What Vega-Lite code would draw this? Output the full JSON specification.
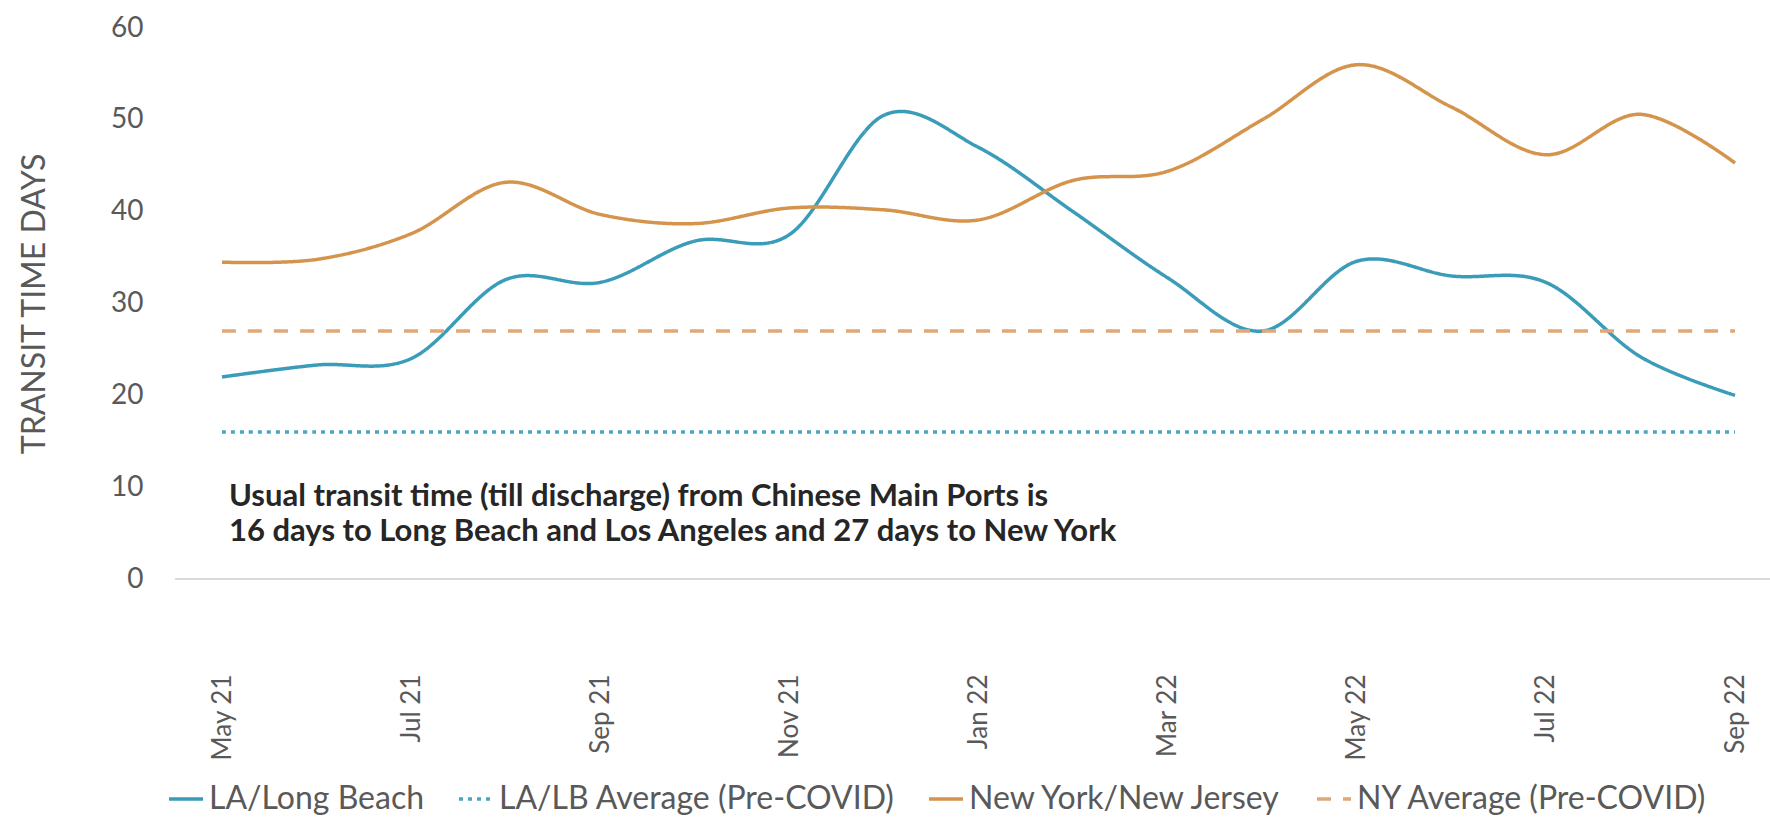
{
  "$schema": "https://vega.github.io/schema/vega-lite/v6.json",
  "width": 1595,
  "height": 551,
  "autosize": {"type": "none"},
  "padding": {"left": 175, "top": 28, "right": 0, "bottom": 244},
  "background": "white",
  "config": {"font": "Lato, sans-serif", "view": {"stroke": null}},
  "datasets": {
    "series": [
      {"month": "May 21", "series": "LA/Long Beach", "days": 22},
      {"month": "Jun 21", "series": "LA/Long Beach", "days": 23.3},
      {"month": "Jul 21", "series": "LA/Long Beach", "days": 24},
      {"month": "Aug 21", "series": "LA/Long Beach", "days": 32.6},
      {"month": "Sep 21", "series": "LA/Long Beach", "days": 32.3},
      {"month": "Oct 21", "series": "LA/Long Beach", "days": 36.8},
      {"month": "Nov 21", "series": "LA/Long Beach", "days": 37.5},
      {"month": "Dec 21", "series": "LA/Long Beach", "days": 50.5},
      {"month": "Jan 22", "series": "LA/Long Beach", "days": 47},
      {"month": "Feb 22", "series": "LA/Long Beach", "days": 40},
      {"month": "Mar 22", "series": "LA/Long Beach", "days": 32.8},
      {"month": "Apr 22", "series": "LA/Long Beach", "days": 27},
      {"month": "May 22", "series": "LA/Long Beach", "days": 34.6},
      {"month": "Jun 22", "series": "LA/Long Beach", "days": 33},
      {"month": "Jul 22", "series": "LA/Long Beach", "days": 32.3},
      {"month": "Aug 22", "series": "LA/Long Beach", "days": 24.2},
      {"month": "Sep 22", "series": "LA/Long Beach", "days": 20},
      {"month": "May 21", "series": "LA/LB Average (Pre-COVID)", "days": 16},
      {"month": "Jun 21", "series": "LA/LB Average (Pre-COVID)", "days": 16},
      {"month": "Jul 21", "series": "LA/LB Average (Pre-COVID)", "days": 16},
      {"month": "Aug 21", "series": "LA/LB Average (Pre-COVID)", "days": 16},
      {"month": "Sep 21", "series": "LA/LB Average (Pre-COVID)", "days": 16},
      {"month": "Oct 21", "series": "LA/LB Average (Pre-COVID)", "days": 16},
      {"month": "Nov 21", "series": "LA/LB Average (Pre-COVID)", "days": 16},
      {"month": "Dec 21", "series": "LA/LB Average (Pre-COVID)", "days": 16},
      {"month": "Jan 22", "series": "LA/LB Average (Pre-COVID)", "days": 16},
      {"month": "Feb 22", "series": "LA/LB Average (Pre-COVID)", "days": 16},
      {"month": "Mar 22", "series": "LA/LB Average (Pre-COVID)", "days": 16},
      {"month": "Apr 22", "series": "LA/LB Average (Pre-COVID)", "days": 16},
      {"month": "May 22", "series": "LA/LB Average (Pre-COVID)", "days": 16},
      {"month": "Jun 22", "series": "LA/LB Average (Pre-COVID)", "days": 16},
      {"month": "Jul 22", "series": "LA/LB Average (Pre-COVID)", "days": 16},
      {"month": "Aug 22", "series": "LA/LB Average (Pre-COVID)", "days": 16},
      {"month": "Sep 22", "series": "LA/LB Average (Pre-COVID)", "days": 16},
      {"month": "May 21", "series": "New York/New Jersey", "days": 34.5},
      {"month": "Jun 21", "series": "New York/New Jersey", "days": 34.8},
      {"month": "Jul 21", "series": "New York/New Jersey", "days": 37.6},
      {"month": "Aug 21", "series": "New York/New Jersey", "days": 43.2},
      {"month": "Sep 21", "series": "New York/New Jersey", "days": 39.7},
      {"month": "Oct 21", "series": "New York/New Jersey", "days": 38.7},
      {"month": "Nov 21", "series": "New York/New Jersey", "days": 40.4},
      {"month": "Dec 21", "series": "New York/New Jersey", "days": 40.2},
      {"month": "Jan 22", "series": "New York/New Jersey", "days": 39.1},
      {"month": "Feb 22", "series": "New York/New Jersey", "days": 43.4},
      {"month": "Mar 22", "series": "New York/New Jersey", "days": 44.4},
      {"month": "Apr 22", "series": "New York/New Jersey", "days": 50},
      {"month": "May 22", "series": "New York/New Jersey", "days": 56},
      {"month": "Jun 22", "series": "New York/New Jersey", "days": 51.4},
      {"month": "Jul 22", "series": "New York/New Jersey", "days": 46.2},
      {"month": "Aug 22", "series": "New York/New Jersey", "days": 50.6},
      {"month": "Sep 22", "series": "New York/New Jersey", "days": 45.3},
      {"month": "May 21", "series": "NY Average (Pre-COVID)", "days": 27},
      {"month": "Jun 21", "series": "NY Average (Pre-COVID)", "days": 27},
      {"month": "Jul 21", "series": "NY Average (Pre-COVID)", "days": 27},
      {"month": "Aug 21", "series": "NY Average (Pre-COVID)", "days": 27},
      {"month": "Sep 21", "series": "NY Average (Pre-COVID)", "days": 27},
      {"month": "Oct 21", "series": "NY Average (Pre-COVID)", "days": 27},
      {"month": "Nov 21", "series": "NY Average (Pre-COVID)", "days": 27},
      {"month": "Dec 21", "series": "NY Average (Pre-COVID)", "days": 27},
      {"month": "Jan 22", "series": "NY Average (Pre-COVID)", "days": 27},
      {"month": "Feb 22", "series": "NY Average (Pre-COVID)", "days": 27},
      {"month": "Mar 22", "series": "NY Average (Pre-COVID)", "days": 27},
      {"month": "Apr 22", "series": "NY Average (Pre-COVID)", "days": 27},
      {"month": "May 22", "series": "NY Average (Pre-COVID)", "days": 27},
      {"month": "Jun 22", "series": "NY Average (Pre-COVID)", "days": 27},
      {"month": "Jul 22", "series": "NY Average (Pre-COVID)", "days": 27},
      {"month": "Aug 22", "series": "NY Average (Pre-COVID)", "days": 27},
      {"month": "Sep 22", "series": "NY Average (Pre-COVID)", "days": 27}
    ],
    "note": [
      {"month": "May 21", "days": 8.9, "label": "Usual transit time (till discharge) from Chinese Main Ports is"},
      {"month": "May 21", "days": 5.1, "label": "16 days to Long Beach and Los Angeles and 27 days to New York"}
    ],
    "base": [
      {"days": 0}
    ]
  },
  "encoding": {
    "x": {
      "field": "month",
      "type": "ordinal",
      "sort": null,
      "scale": {
        "type": "point",
        "domain": ["May 21", "Jun 21", "Jul 21", "Aug 21", "Sep 21", "Oct 21", "Nov 21", "Dec 21", "Jan 22", "Feb 22", "Mar 22", "Apr 22", "May 22", "Jun 22", "Jul 22", "Aug 22", "Sep 22"],
        "range": [47, 1560],
        "padding": 0
      },
      "axis": {
        "title": null,
        "domain": false,
        "ticks": false,
        "grid": false,
        "labelAngle": -90,
        "labelPadding": 95,
        "labelFontSize": 26,
        "labelColor": "#595959",
        "values": ["May 21", "Jul 21", "Sep 21", "Nov 21", "Jan 22", "Mar 22", "May 22", "Jul 22", "Sep 22"]
      }
    },
    "y": {
      "field": "days",
      "type": "quantitative",
      "scale": {"domain": [0, 60], "nice": false, "zero": true},
      "axis": {
        "title": "TRANSIT TIME DAYS",
        "values": [0, 10, 20, 30, 40, 50, 60],
        "domain": false,
        "ticks": false,
        "grid": false,
        "labelPadding": 32,
        "labelFontSize": 28,
        "labelColor": "#595959",
        "titleFontSize": 32,
        "titleFontWeight": "normal",
        "titleColor": "#595959",
        "titlePadding": 59
      }
    }
  },
  "layer": [
    {
      "data": {"name": "base"},
      "mark": {"type": "rule", "color": "#d9d9d9", "strokeWidth": 2},
      "encoding": {"y": {"field": "days", "type": "quantitative"}, "x": null}
    },
    {
      "data": {"name": "series"},
      "mark": {"type": "line", "interpolate": "cardinal", "strokeWidth": 3.5},
      "encoding": {
        "color": {
          "field": "series",
          "type": "nominal",
          "scale": {
            "domain": ["LA/Long Beach", "LA/LB Average (Pre-COVID)", "New York/New Jersey", "NY Average (Pre-COVID)"],
            "range": ["#3A9CB8", "#4BA6BF", "#D4944C", "#E0A878"]
          },
          "legend": {
            "title": null,
            "orient": "none",
            "legendX": -8,
            "legendY": 752,
            "direction": "horizontal",
            "columns": 4,
            "symbolType": "stroke",
            "symbolSize": 1156,
            "symbolStrokeWidth": 3.5,
            "labelFontSize": 32,
            "labelColor": "#595959",
            "labelLimit": 0,
            "labelOffset": 4,
            "columnPadding": 27
          }
        },
        "strokeDash": {
          "field": "series",
          "type": "nominal",
          "scale": {
            "domain": ["LA/Long Beach", "LA/LB Average (Pre-COVID)", "New York/New Jersey", "NY Average (Pre-COVID)"],
            "range": [[1, 0], [4, 5], [1, 0], [14, 12]]
          },
          "legend": {
            "title": null,
            "orient": "none",
            "legendX": -8,
            "legendY": 752,
            "direction": "horizontal",
            "columns": 4,
            "symbolType": "stroke",
            "symbolSize": 1156,
            "symbolStrokeWidth": 3.5,
            "labelFontSize": 32,
            "labelColor": "#595959",
            "labelLimit": 0,
            "labelOffset": 4,
            "columnPadding": 27
          }
        }
      }
    },
    {
      "data": {"name": "note"},
      "mark": {"type": "text", "align": "left", "baseline": "middle", "dx": 7, "fontSize": 31, "fontWeight": "bold", "color": "#262626"},
      "encoding": {"text": {"field": "label"}}
    }
  ]
}
